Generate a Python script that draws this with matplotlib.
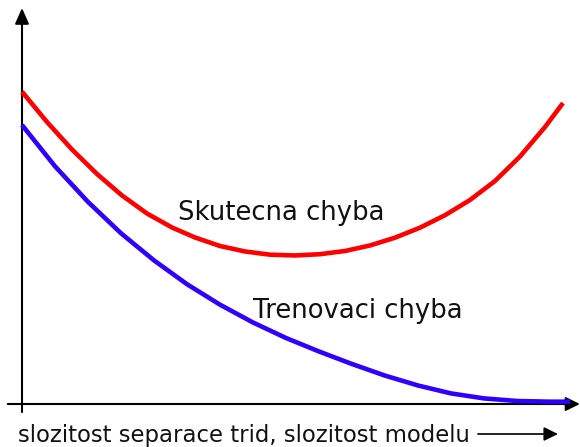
import matplotlib
matplotlib.use("Agg")
import matplotlib.pyplot as plt

# Data (model complexity vs. error)
complexity_real = [0.0, 0.456, 0.912, 1.369, 1.825, 2.281, 2.737, 3.157, 3.613, 4.069, 4.526, 4.982,
                   5.438, 5.894, 6.350, 6.807, 7.263, 7.719, 8.175, 8.631, 9.088, 9.544, 9.872]
error_real = [7.808, 7.050, 6.363, 5.750, 5.213, 4.763, 4.413, 4.163, 3.950, 3.813, 3.733, 3.713,
              3.745, 3.825, 3.963, 4.158, 4.408, 4.720, 5.100, 5.575, 6.188, 6.925, 7.525]

complexity_train = [0.0, 0.602, 1.204, 1.807, 2.409, 3.011, 3.613, 4.215, 4.818, 5.420, 6.022,
                    6.624, 7.226, 7.828, 8.431, 9.033, 9.635, 10.0]
error_train = [6.975, 5.943, 5.053, 4.268, 3.590, 2.995, 2.483, 2.038, 1.650, 1.313, 1.000,
               0.710, 0.463, 0.265, 0.140, 0.075, 0.058, 0.058]

label_real = "Skutecna chyba"
label_train = "Trenovaci chyba"
xlabel = "slozitost separace trid, slozitost modelu"

fig = plt.figure(figsize=(5.8, 4.47), dpi=100)
ax = fig.add_axes([0, 0, 1, 1])
ax.set_xlim(-22 / 54.8, (580 - 22) / 54.8)
ax.set_ylim(-(447 - 404) / 40, 404 / 40)
ax.axis("off")

ax.plot(complexity_real, error_real, color="#ff0000", lw=3.3, solid_capstyle="butt",
        solid_joinstyle="round", zorder=3)
ax.plot(complexity_train, error_train, color="#3000ff", lw=3.3, solid_capstyle="butt",
        solid_joinstyle="round", zorder=3)

# axes with arrows
ax.annotate("", xy=(0, 9.9), xytext=(0, -0.2),
            arrowprops=dict(arrowstyle="-|>,head_length=0.95,head_width=0.42", mutation_scale=10,
                            lw=1.5, color="black", shrinkA=0, shrinkB=0), zorder=2)
ax.annotate("", xy=(10.18, 0), xytext=(-0.26, 0),
            arrowprops=dict(arrowstyle="-|>,head_length=0.85,head_width=0.42", mutation_scale=10,
                            lw=1.5, color="black", shrinkA=0, shrinkB=0), zorder=2)

ax.text(2.85, 4.6, label_real, fontsize=18.6, va="baseline", ha="left", color="#111111")
ax.text(4.21, 2.15, label_train, fontsize=18.6, va="baseline", ha="left", color="#111111")

ax.text(-0.08, -0.95, xlabel, fontsize=16.4, va="baseline", ha="left", color="#111111")
ax.annotate("", xy=(9.78, -0.75), xytext=(8.32, -0.75),
            arrowprops=dict(arrowstyle="-|>,head_length=0.85,head_width=0.42", mutation_scale=10,
                            lw=1.2, color="black", shrinkA=0, shrinkB=0))

fig.savefig("out.png", dpi=100)
